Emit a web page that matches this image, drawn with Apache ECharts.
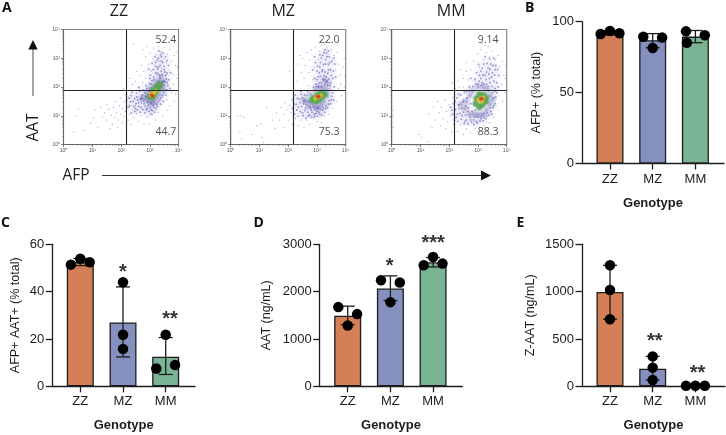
<!DOCTYPE html>
<html><head><meta charset="utf-8">
<script src="https://cdn.jsdelivr.net/npm/echarts@6/dist/echarts.min.js"></script>
<style>html,body{margin:0;padding:0;background:#fff}#c{width:726px;height:435px}</style></head>
<body><div id="c"></div>
<script>
// ---------- data ----------
const genotypes = ['ZZ','MZ','MM'];
const barColors = ['#D47F55','#8590BE','#79B594'];

const afpMeans = [92, 87, 89.5];
const afpDots = [[0.78,91.3],[1,93.4],[1.22,91.8],[1.78,89.4],[2,81.4],[2.22,88.9],[2.78,93.2],[2.8,85.2],[3.22,90.4]];
const afpErr = [[1,90.6,93.6],[2,81.6,91.6],[3,85.2,93.8]];
const afpStars = [];

const dpMeans = [52.4, 27, 12.5];
const dpDots = [[0.78,51.4],[1,53.9],[1.22,52.4],[2,44],[2,21.8],[2,15.8],[2.78,7.5],[3,21.8],[3.22,9]];
const dpErr = [[1,51,54],[2,12.4,42],[3,5,20.6]];
const dpStars = [[2,'*',48.1],[3.1,'**',28.1]];

const aatMeans = [1490, 2066, 2620];
const aatDots = [[0.78,1673],[1.22,1525],[1,1286],[1.78,2241],[2.22,2192],[2,1778],[2.78,2558],[3,2733],[3.22,2592]];
const aatErr = [[1,1300,1693],[2,1813,2333],[3,2522,2720]];
const aatStars = [[1.98,'*',2540],[3,'***',3020]];

const zaatMeans = [997, 186, 5];
const zaatDots = [[1,1278],[1,1018],[1,709],[2,316],[2,197],[2,67],[2.78,5],[3,5],[3.22,5]];
const zaatErr = [[1,709,1278],[2,67,316]];
const zaatStars = [[2.05,'**',475],[3.05,'**',135]];

// flow cytometry clouds: [log10 AFP, log10 AAT], estimated by eye, by density tier
const zzSparse = [[0.35,0.45],[0.45,1.0],[0.52,1.25],[0.7,0.5],[0.95,0.75],[1.05,0.92],[1.1,1.2],[1.2,0.6],[1.3,1.3],[1.35,0.95],[1.42,1.1],[1.5,1.4],[1.5,0.85],[1.58,1.22],[1.62,0.55],[1.66,1.02],[1.7,0.7],[1.74,1.3],[1.78,0.95],[1.8,1.5],[1.85,1.12],[1.88,0.6],[1.9,0.85],[1.95,1.35],[1.98,1.05],[2.0,1.62],[2.05,0.75],[2.05,1.25],[2.1,0.98],[2.12,1.48],[2.15,1.15],[2.18,1.75],[2.25,0.85],[2.3,1.05],[2.35,0.7],[2.4,1.2],[2.45,0.92],[2.55,1.08],[2.6,0.8],[2.7,1.0],[2.8,0.72],[2.9,0.95],[3.0,0.7],[3.1,1.05],[3.2,0.85],[3.3,1.12],[3.45,1.0],[3.6,1.2],[3.7,1.35],[3.85,1.5],[3.9,1.75],[3.95,2.3],[3.97,2.7],[3.92,3.2],[2.45,3.5],[2.75,3.3],[2.85,3.05],[2.9,3.4],[2.95,2.8],[3.0,3.18],[3.05,2.55],[3.1,3.0],[3.12,3.35],[3.18,2.75],[3.22,3.12],[3.28,2.5],[3.3,3.42],[3.35,2.9],[3.4,3.22],[3.42,2.65],[3.48,3.0],[3.5,3.38],[3.55,2.4],[3.58,2.85],[3.62,3.15],[3.68,2.6],[3.7,3.3],[3.75,2.9],[3.8,2.45],[3.85,3.1],[3.9,2.75],[2.5,2.2],[2.55,2.55],[2.6,2.0],[2.65,2.4],[2.7,2.75],[2.75,2.15],[2.8,2.55],[2.85,2.3],[2.4,2.1],[2.3,2.3],[2.2,2.0],[2.1,1.95],[3.6,1.55],[3.75,1.8],[3.82,2.1],[2.95,1.0],[2.7,1.25],[2.5,1.35]];
const zzBlue = [[2.2,1.55],[2.3,1.35],[2.35,1.7],[2.42,1.5],[2.5,1.25],[2.55,1.65],[2.6,1.45],[2.65,1.85],[2.7,1.3],[2.72,1.6],[2.8,1.42],[2.82,1.8],[2.88,1.2],[2.9,1.95],[2.95,1.35],[3.05,1.2],[3.15,1.3],[3.25,1.4],[3.35,1.55],[3.45,1.7],[3.55,1.9],[3.6,2.15],[3.55,2.4],[3.5,2.6],[3.45,2.85],[3.4,3.05],[3.3,2.7],[3.25,2.45],[3.15,2.25],[3.05,2.1],[3.35,2.3],[3.4,2.55],[3.2,2.85],[3.3,3.0],[3.5,2.2],[3.0,2.3],
[2.25,1.3],[2.28,1.62],[2.33,1.48],[2.36,1.1],[2.38,1.82],[2.44,1.32],[2.47,1.6],[2.48,1.15],[2.52,1.42],[2.54,1.78],[2.57,1.2],[2.58,1.55],[2.62,1.32],[2.63,1.98],[2.67,1.12],[2.68,1.58],[2.71,1.45],[2.74,1.72],[2.76,1.22],[2.78,1.9],[2.79,1.52],[2.83,1.1],[2.84,1.33],[2.86,1.68],[2.87,2.05],[2.91,1.25],[2.92,1.48],[2.93,1.62],[2.97,1.15],[2.98,1.85],[2.99,2.12],[3.02,1.28],[3.04,1.05],[3.06,1.45],[3.08,2.22],[3.1,1.18],[3.12,1.36],[3.14,2.35],[3.17,1.12],[3.19,1.42],[3.2,2.5],[3.22,1.25],[3.24,2.1],[3.27,1.32],[3.28,2.62],[3.3,1.48],[3.32,2.2],[3.34,2.42],[3.36,2.75],[3.38,1.4],[3.4,1.62],[3.41,2.9],[3.43,2.18],[3.44,2.42],[3.47,1.5],[3.49,1.8],[3.5,2.72],[3.52,2.05],[3.53,2.52],[3.56,1.72],[3.58,2.28],[3.6,1.9],[3.6,2.48],[3.63,2.05],[3.65,2.75],[3.67,2.25],[3.7,1.95],[3.72,2.5],[3.22,2.7],[3.26,2.92],[3.18,3.05],[3.12,2.6],[3.08,2.82],[3.02,2.42],[2.96,2.62],[3.38,3.12],[3.46,3.18],[3.55,3.05],[3.32,3.25],[3.6,2.92]];
const zzNavy = [[2.72,1.62],[2.85,1.6],[2.95,1.5],[2.9,1.78],[3.05,1.42],[3.02,1.95],[3.15,1.5],[3.25,1.62],[3.35,1.75],[3.45,1.95],[3.48,2.2],[3.38,2.35],[3.25,2.2],[3.15,2.05],[3.4,2.05]];
const zzGreen = [[3.0,1.68],[3.08,1.62],[3.15,1.75],[3.22,1.85],[3.3,1.98],[3.36,2.1],[3.25,2.02],[3.12,1.9]];
const zzYellow = [[3.05,1.72],[3.12,1.78],[3.2,1.85]];
const zzRed = [[3.07,1.72],[3.1,1.69]];

const mzSparse = [[0.25,1.0],[0.35,1.0],[0.45,0.95],[0.32,0.45],[0.38,0.2],[0.75,0.35],[0.9,0.65],[1.05,0.72],[1.1,0.25],[1.15,0.08],[1.25,1.3],[1.45,0.85],[1.55,0.55],[1.6,1.1],[1.7,0.85],[1.75,1.3],[1.85,0.6],[1.85,1.05],[1.9,1.45],[1.95,1.2],[2.0,0.85],[2.05,1.35],[2.1,1.1],[2.12,1.55],[2.15,0.7],[2.18,2.9],[2.05,2.55],[2.25,0.9],[2.35,0.65],[2.45,0.85],[2.55,0.6],[2.65,0.85],[2.75,0.7],[2.9,0.95],[3.0,0.8],[3.15,0.75],[3.25,1.0],[3.4,1.05],[3.55,1.25],[3.7,1.5],[3.85,1.7],[3.95,2.0],[3.97,2.4],[3.95,3.0],[3.9,2.7],[2.3,2.2],[2.35,2.8],[2.4,3.1],[2.45,2.5],[2.5,3.0],[2.55,2.3],[2.6,2.75],[2.65,3.2],[2.7,2.05],[2.72,2.5],[2.75,2.95],[2.8,3.3],[2.85,2.25],[2.9,2.7],[2.95,3.4],[3.0,2.1],[3.05,2.95],[3.1,3.25],[3.15,3.45],[3.25,3.5],[3.35,3.4],[3.5,3.3],[3.6,3.1],[3.7,3.2],[3.75,2.8],[3.8,2.4],[3.82,2.1],[3.75,1.95],[3.65,2.6]];
const mzBlue = [[2.2,1.4],[2.3,1.2],[2.32,1.6],[2.4,1.45],[2.45,1.75],[2.5,1.1],[2.55,1.5],[2.6,1.25],[2.65,1.7],[2.7,1.0],[2.8,1.2],[2.9,1.05],[3.0,1.15],[3.1,1.05],[3.2,1.2],[3.3,1.25],[3.4,1.4],[3.5,1.55],[3.55,1.8],[2.95,2.1],[3.05,2.35],[3.15,2.15],[3.25,2.4],[3.35,2.2],[3.45,2.05],[3.5,2.4],[3.4,2.6],[3.3,2.8],[3.2,2.6],[3.1,2.7],[3.0,2.55],[3.15,3.0],[3.35,3.05],[3.45,2.85],[3.25,3.2],[2.95,2.85],
[2.15,1.25],[2.18,1.55],[2.22,1.05],[2.25,1.72],[2.28,1.4],[2.34,0.98],[2.36,1.3],[2.38,1.58],[2.42,1.15],[2.44,1.85],[2.47,1.32],[2.49,1.62],[2.52,1.0],[2.53,1.42],[2.57,1.72],[2.58,1.18],[2.62,0.92],[2.63,1.38],[2.67,1.85],[2.68,1.12],[2.73,1.48],[2.75,1.02],[2.77,1.28],[2.82,0.95],[2.83,1.12],[2.87,1.32],[2.92,0.98],[2.93,1.22],[2.97,1.08],[3.02,0.98],[3.03,1.25],[3.07,1.12],[3.12,1.22],[3.17,1.02],[3.22,1.28],[3.27,1.12],[3.32,1.35],[3.37,1.28],[3.42,1.52],[3.47,1.42],[3.52,1.68],[3.58,1.55],[2.88,2.0],[2.92,2.3],[2.98,2.02],[3.0,2.25],[3.02,2.72],[3.08,2.15],[3.08,2.5],[3.12,2.38],[3.12,2.85],[3.17,2.02],[3.18,2.55],[3.2,3.1],[3.22,2.25],[3.23,2.78],[3.27,2.08],[3.28,2.52],[3.3,2.95],[3.32,2.35],[3.33,3.18],[3.37,2.05],[3.38,2.48],[3.4,2.78],[3.42,2.28],[3.43,3.05],[3.47,2.6],[3.48,2.15],[3.52,2.9],[3.55,2.3],[3.57,2.55],[3.6,2.0],[3.62,2.8],[3.58,3.0],[3.1,3.12],[3.28,3.3],[3.05,2.0],[3.4,3.25],[2.85,2.6],[2.92,3.05],[3.65,2.35]];
const mzNavy = [[2.55,1.55],[2.65,1.5],[2.72,1.32],[2.78,1.75],[2.85,1.42],[2.95,1.3],[3.05,1.3],[3.15,1.38],[3.25,1.5],[3.35,1.7],[3.4,1.9],[3.25,1.95],[3.1,2.0],[2.95,1.9],[3.35,2.15],[3.25,2.25]];
const mzGreen = [[2.82,1.55],[2.9,1.62],[2.98,1.5],[3.08,1.56],[3.18,1.65],[3.27,1.75],[3.02,1.72],[3.15,1.8]];
const mzYellow = [[2.95,1.6],[3.03,1.66],[3.13,1.7]];
const mzRed = [[3.02,1.66],[3.07,1.68]];

const mmSparse = [[0.05,1.0],[0.08,1.2],[0.05,0.6],[0.95,0.35],[1.05,0.25],[1.25,0.1],[1.3,1.05],[1.4,0.6],[1.45,1.3],[1.52,0.85],[1.6,1.5],[1.65,1.1],[1.7,0.65],[1.72,1.3],[1.8,0.9],[1.85,1.55],[1.88,0.55],[1.9,1.15],[1.95,0.8],[2.0,1.4],[2.05,1.0],[2.08,0.45],[2.12,1.65],[2.15,0.7],[2.3,0.45],[2.4,0.7],[2.5,0.35],[2.6,0.55],[2.75,0.4],[2.9,0.55],[3.05,0.6],[3.2,0.65],[3.4,0.75],[3.55,0.95],[3.7,1.2],[3.85,1.5],[3.95,1.8],[3.95,2.3],[3.97,2.75],[2.1,2.15],[2.2,2.45],[2.3,2.2],[2.4,2.6],[2.5,2.3],[2.6,2.85],[2.65,2.25],[2.75,2.6],[2.85,2.9],[2.9,2.3],[3.0,3.15],[3.05,2.7],[3.1,3.3],[3.2,2.95],[3.28,3.2],[3.25,3.45],[3.4,3.05],[3.5,3.25],[3.6,2.95],[3.7,3.1],[3.75,2.7],[3.85,2.9],[3.9,2.4],[3.82,2.1],[3.15,3.5],[3.35,3.4],[2.2,1.95],[2.35,2.0],[2.5,2.0],[2.6,2.55],[3.0,0.45],[3.3,0.5]];
const mmBlue = [[2.1,1.2],[2.2,1.5],[2.25,0.95],[2.32,1.75],[2.35,1.25],[2.45,1.0],[2.5,1.55],[2.55,0.8],[2.6,1.85],[2.65,1.15],[2.75,0.85],[2.7,2.0],[2.85,0.85],[2.95,0.8],[3.1,0.9],[3.2,0.95],[3.3,1.0],[3.45,1.15],[3.55,1.35],[3.62,1.65],[3.6,1.95],[3.55,2.2],[3.3,2.1],[3.15,2.15],[3.0,2.1],[3.05,2.4],[3.25,2.4],[3.4,2.3],[3.5,2.5],[3.35,2.65],[3.15,2.65],[3.45,2.8],[3.6,2.6],[2.9,2.25],
[2.05,1.3],[2.12,1.05],[2.15,1.42],[2.18,0.85],[2.22,1.22],[2.27,1.62],[2.28,1.05],[2.3,0.8],[2.33,1.38],[2.38,1.08],[2.4,1.72],[2.42,0.88],[2.44,1.25],[2.47,1.48],[2.5,1.12],[2.52,0.72],[2.53,1.82],[2.56,1.02],[2.58,1.35],[2.6,0.85],[2.62,1.62],[2.66,0.72],[2.67,1.28],[2.7,1.85],[2.72,0.95],[2.75,1.42],[2.78,0.78],[2.8,1.15],[2.82,2.02],[2.86,0.7],[2.88,0.95],[2.9,1.2],[2.92,2.1],[2.95,0.98],[2.98,0.75],[3.02,0.95],[3.05,2.2],[3.07,0.82],[3.12,0.98],[3.12,2.05],[3.18,0.82],[3.2,2.1],[3.22,1.08],[3.27,0.9],[3.28,2.25],[3.32,1.1],[3.35,2.02],[3.38,1.02],[3.42,2.15],[3.42,1.28],[3.48,1.05],[3.5,2.02],[3.5,1.8],[3.52,1.28],[3.55,1.62],[3.58,1.85],[3.6,1.42],[3.65,1.8],[3.65,2.15],[3.7,2.0],[3.72,2.4],[3.1,2.55],[3.1,2.3],[3.18,2.42],[3.2,2.8],[3.3,2.52],[3.32,2.82],[3.38,2.45],[3.42,2.62],[3.48,2.35],[3.52,2.75],[3.58,2.42],[3.62,2.75],[3.4,2.98],[3.25,3.05],[3.55,3.0],[2.95,2.5],[3.02,2.78],[3.68,2.6],[2.75,2.3]];
const mmNavy = [[2.4,1.4],[2.55,1.25],[2.6,1.5],[2.7,1.05],[2.72,1.7],[2.85,1.05],[2.82,1.85],[3.0,1.05],[3.0,2.0],[3.15,1.05],[3.2,1.98],[3.3,1.2],[3.4,1.4],[3.42,1.7],[3.35,1.9],[3.5,1.55]];
const mmGreen = [[2.92,1.42],[2.95,1.6],[3.05,1.3],[3.05,1.75],[3.15,1.38],[3.2,1.72],[3.27,1.5],[3.28,1.62]];
const mmYellow = [[3.03,1.55],[3.12,1.5],[3.18,1.62]];
const mmRed = [[3.1,1.58],[3.14,1.6]];

const gateAfp = 155, gateAat = 76;
const decadeSup = ['\u2070','\u00b9','\u00b2','\u00b3','\u2074'];

const flowPanels = [
  {left:63.5, title:'ZZ', tiers:[zzSparse,zzBlue,zzNavy,zzGreen,zzYellow,zzRed], upper:'52.4', lower:'44.7', labelX:3.56},
  {left:230.7,title:'MZ', tiers:[mzSparse,mzBlue,mzNavy,mzGreen,mzYellow,mzRed], upper:'22.0', lower:'75.3', labelX:3.42},
  {left:391.7,title:'MM', tiers:[mmSparse,mmBlue,mmNavy,mmGreen,mmYellow,mmRed], upper:'9.14', lower:'88.3', labelX:3.35}
];
const washStyle = {size:7,color:'#8A8AD0',opacity:0.05,blur:0};
const deepStyle = {size:8,color:'#3A3A9C',opacity:0.12,blur:0};
const tierStyle = [
  {size:1.2,color:'#7474BC',opacity:0.7,blur:0},
  {size:1.9,color:'#3D3DA6',opacity:0.5,blur:0},
  {size:4,color:'#1F1F80',opacity:0.22,blur:0},
  {size:5.5,color:'#54A650',opacity:0.7,blur:2},
  {size:4.2,color:'#D8C22C',opacity:0.85,blur:2},
  {size:3,color:'#D9472A',opacity:0.95,blur:1}
];

const barPanels = [
  {left:582,  top:21.7, width:142, height:141.8, yMax:100,  yStep:50,  name:'AFP+ (% total)',       gap:39, means:afpMeans, dots:afpDots, err:afpErr, stars:afpStars},
  {left:52.3, top:244.3,width:142.7,height:142,  yMax:60,   yStep:20,  name:'AFP+ AAT+ (% total)',  gap:30, means:dpMeans,  dots:dpDots,  err:dpErr,  stars:dpStars},
  {left:319.7,top:244.3,width:142.6,height:142,  yMax:3000, yStep:1000,name:'AAT (ng/mL)',          gap:47, means:aatMeans, dots:aatDots, err:aatErr, stars:aatStars},
  {left:582,  top:244.3,width:143,  height:142,  yMax:1500, yStep:500, name:'Z-AAT (ng/mL)',        gap:45, means:zaatMeans,dots:zaatDots,err:zaatErr,stars:zaatStars}
];

// ---------- option ----------
const sans = 'Liberation Sans';
const flowFont = 'Open Sans';
const dark = '#1c1c1c';
const grids=[], xAxes=[], yAxes=[], series=[], graphics=[];

flowPanels.forEach(p=>{
  const i = grids.length;
  grids.push({left:p.left, top:29.5, width:115, height:115, show:true, borderColor:'#8a8a8a', borderWidth:1.2, backgroundColor:'#fff'});
  const ax = {
    type:'log', logBase:10, min:1, max:10000, splitLine:{show:false}, gridIndex:i,
    axisLine:{show:true,onZero:false,lineStyle:{color:'#666',width:1}},
    axisTick:{show:true,length:2.5,lineStyle:{color:'#555',width:0.7}},
    minorTick:{show:true,splitNumber:9,length:1.4,lineStyle:{color:'#777',width:0.5}},
    axisLabel:{fontSize:5,color:'#555',margin:3.5,fontFamily:sans,showMinLabel:true,showMaxLabel:true,
      formatter:v=>'10'+decadeSup[Math.round(Math.log10(v))]}
  };
  xAxes.push(Object.assign({},ax));
  yAxes.push(Object.assign({},ax));
  const addTier=(pts,s)=>series.push({type:'scatter',xAxisIndex:i,yAxisIndex:i,silent:true,animation:false,
      symbolSize:s.size,
      itemStyle:{color:s.color,opacity:s.opacity,shadowBlur:s.blur,shadowColor:s.color},
      data:pts.map(q=>[Math.pow(10,q[0]),Math.pow(10,q[1])])});
  addTier(p.tiers[1],washStyle);
  addTier(p.tiers[2].concat(p.tiers[3]),deepStyle);
  p.tiers.forEach((pts,t)=>addTier(pts,tierStyle[t]));
  const lab = {show:true,position:'inside',fontSize:10.5,color:'#222',fontFamily:flowFont,formatter:o=>o.data[2]};
  series.push({type:'scatter',xAxisIndex:i,yAxisIndex:i,silent:true,animation:false,symbolSize:1,z:5,
    itemStyle:{color:'rgba(0,0,0,0)'},label:lab,
    data:[[Math.pow(10,p.labelX),Math.pow(10,3.64),p.upper],[Math.pow(10,p.labelX),Math.pow(10,0.43),p.lower]],
    markLine:{silent:true,symbol:'none',animation:false,label:{show:false},
      lineStyle:{color:'#222',width:1.1,type:'solid'},
      data:[{xAxis:gateAfp},{yAxis:gateAat}]}});
  graphics.push({type:'text',x:p.left+(p.title==='ZZ'?55.5:p.title==='MZ'?52.5:59.5),y:11,style:{text:p.title,fontSize:16,fontFamily:flowFont,fill:'#222',align:'center',verticalAlign:'middle'}});
});

barPanels.forEach(p=>{
  const i = grids.length;
  const unit = 42.7;
  const x0 = 1-28/unit, x1 = 3+(p.width-28-2*unit)/unit;
  grids.push({left:p.left,top:p.top,width:p.width,height:p.height});
  xAxes.push({type:'value',gridIndex:i,min:x0,max:x1,splitLine:{show:false},
    name:'Genotype',nameLocation:'middle',nameGap:33,
    nameTextStyle:{fontFamily:sans,fontSize:13,fontWeight:'bold',color:dark},
    axisLine:{show:true,onZero:false,lineStyle:{color:dark,width:1.3}},
    axisTick:{show:true,length:6,lineStyle:{color:dark,width:1.3},customValues:[1,2,3]},
    axisLabel:{show:true,fontFamily:sans,fontSize:13,color:dark,margin:9,customValues:[1,2,3],formatter:v=>genotypes[Math.round(v)-1]}});
  yAxes.push({type:'value',gridIndex:i,min:0,max:p.yMax,interval:p.yStep,splitLine:{show:false},
    name:p.name,nameLocation:'middle',nameGap:p.gap,
    nameTextStyle:{fontFamily:sans,fontSize:12.5,color:dark},
    axisLine:{show:true,onZero:false,lineStyle:{color:dark,width:1.3}},
    axisTick:{show:true,length:6.5,lineStyle:{color:dark,width:1.3}},
    axisLabel:{fontFamily:sans,fontSize:13,color:dark,margin:8,formatter:v=>String(v)}});
  series.push({type:'bar',xAxisIndex:i,yAxisIndex:i,barWidth:27,silent:true,animation:false,z:2,
    data:p.means.map((m,k)=>({value:[k+1,m],itemStyle:{color:barColors[k],borderColor:dark,borderWidth:1.3}}))});
  series.push({type:'custom',xAxisIndex:i,yAxisIndex:i,silent:true,animation:false,z:3,data:p.err,clip:false,
    encode:{x:0,y:[1,2]},
    renderItem:(params,api)=>{
      const x=api.value(0),lo=api.coord([x,api.value(1)]),hi=api.coord([x,api.value(2)]);
      const st={stroke:dark,lineWidth:1.3,fill:null};
      const w=7;
      return {type:'group',children:[
        {type:'line',shape:{x1:lo[0],y1:lo[1],x2:hi[0],y2:hi[1]},style:st},
        {type:'line',shape:{x1:lo[0]-w,y1:lo[1],x2:lo[0]+w,y2:lo[1]},style:st},
        {type:'line',shape:{x1:hi[0]-w,y1:hi[1],x2:hi[0]+w,y2:hi[1]},style:st}]};
    }});
  series.push({type:'scatter',xAxisIndex:i,yAxisIndex:i,silent:true,animation:false,z:4,clip:false,symbolSize:10.5,
    itemStyle:{color:'#000',opacity:1},data:p.dots});
  if(p.stars.length) series.push({type:'scatter',xAxisIndex:i,yAxisIndex:i,silent:true,animation:false,z:5,clip:false,symbolSize:1,
    itemStyle:{color:'rgba(0,0,0,0)'},
    label:{show:true,position:'inside',fontFamily:sans,fontSize:20,fontWeight:'bold',color:'#000',formatter:o=>o.data[2]},
    data:p.stars.map(s=>[s[0],s[2],s[1]]),encode:{x:0,y:1}});
});

[['A',2,1],['B',525,1],['C',1,216.5],['D',253.5,216.5],['E',516.5,216.5]].forEach(l=>{
  graphics.push({type:'text',left:l[1],top:l[2],style:{text:l[0],fontFamily:flowFont,fontWeight:'bold',fontSize:14,fill:'#111'}});
});
graphics.push({type:'text',x:34,y:127.5,rotation:Math.PI/2,style:{text:'AAT',fontSize:15.5,fontFamily:flowFont,fill:'#222',align:'center',verticalAlign:'middle'}});
graphics.push({type:'text',x:76,y:176,style:{text:'AFP',fontSize:15.5,fontFamily:flowFont,fill:'#222',align:'center',verticalAlign:'middle'}});
graphics.push({type:'line',shape:{x1:33,y1:96,x2:33,y2:48},style:{stroke:'#888',lineWidth:1.5}});
graphics.push({type:'polygon',shape:{points:[[33,40],[28.3,49.5],[37.7,49.5]]},style:{fill:'#111'}});
graphics.push({type:'line',shape:{x1:102,y1:175.5,x2:482,y2:175.5},style:{stroke:'#333',lineWidth:1.2}});
graphics.push({type:'polygon',shape:{points:[[491,175.5],[481,170.5],[481,180.5]]},style:{fill:'#111'}});

const chart = echarts.init(document.getElementById('c'),null,{renderer:'canvas'});
chart.setOption({animation:false,backgroundColor:'#fff',grid:grids,xAxis:xAxes,yAxis:yAxes,series:series,graphic:{elements:graphics}});
</script></body></html>
